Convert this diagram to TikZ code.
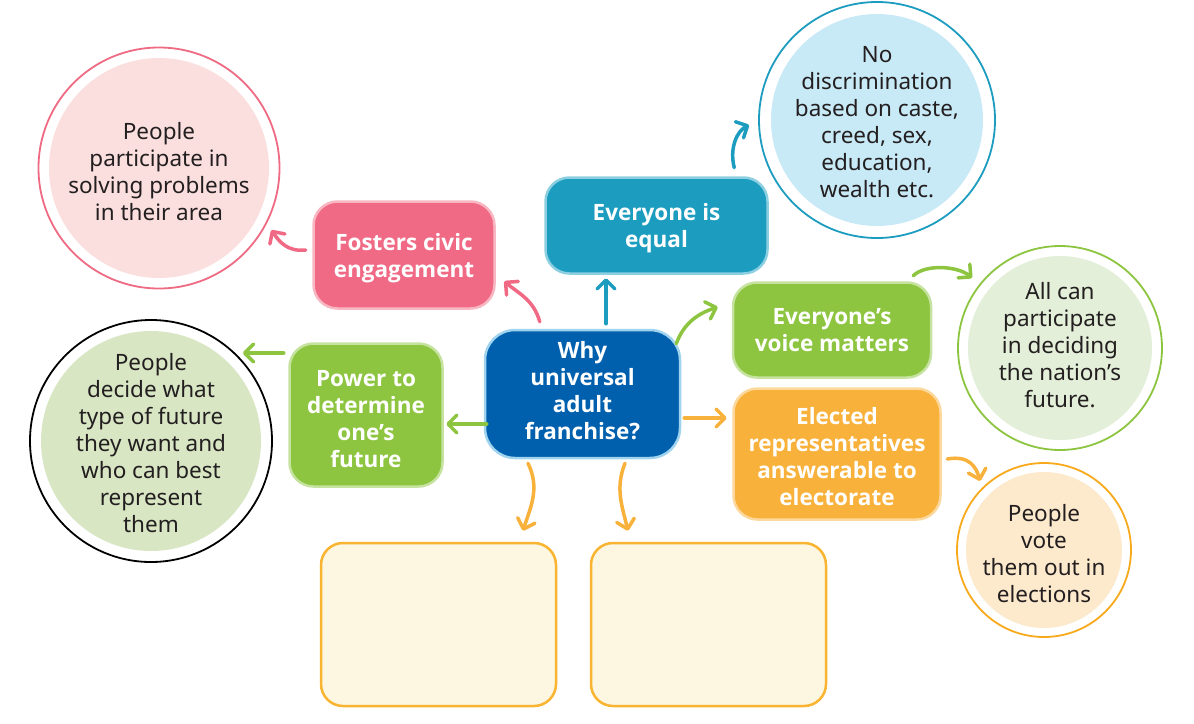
\documentclass[tikz,border=0pt]{standalone}
\usepackage{fontspec}
\setmainfont{Noto Sans}
\newfontfamily\headfont{Open Sans}
\usetikzlibrary{arrows.meta,calc}
\definecolor{ink}{HTML}{231F20}
\definecolor{whyfill}{HTML}{0060AE}
\definecolor{whyedge}{HTML}{9FD3EE}
\definecolor{teal}{HTML}{1C9CBF}
\definecolor{tealedge}{HTML}{8CCFE1}
\definecolor{pinkc}{HTML}{F06A85}
\definecolor{pinkedge}{HTML}{F8B7C3}
\definecolor{greenc}{HTML}{8DC540}
\definecolor{greenedge}{HTML}{C6E29F}
\definecolor{orangec}{HTML}{F8B13A}
\definecolor{orangeedge}{HTML}{FCD89C}
\definecolor{blankfill}{HTML}{FDF6E1}
\definecolor{blankedge}{HTML}{F9B531}
\definecolor{pinkring}{HTML}{EF6B83}
\definecolor{pinkdisc}{HTML}{FBDFDF}
\definecolor{bluedisc}{HTML}{C8E9F6}
\definecolor{greendisc}{HTML}{E3EFD8}
\definecolor{sagedisc}{HTML}{D8E6C4}
\definecolor{orangering}{HTML}{F8A91C}
\definecolor{orangedisc}{HTML}{FDE9CC}
\begin{document}
\begin{tikzpicture}[x=1pt,y=-1pt,
  box/.style={rectangle, rounded corners=24pt, line width=2.5pt, inner sep=0pt},
  head/.style={text=white, font=\headfont\bfseries\fontsize{22.5}{27}\selectfont, align=center, inner sep=0pt},
  blank/.style={rectangle, rounded corners=22pt, line width=2.5pt, draw=blankedge, fill=blankfill,
    minimum width=235pt, minimum height=163pt, inner sep=0pt},
  ring/.style={circle, line width=1.8pt, fill=white, inner sep=0pt},
  disc/.style={circle, inner sep=0pt},
  words/.style={text=ink, font=\fontsize{22.5}{27}\selectfont, align=center, inner sep=0pt},
  arr/.style={line width=3.5pt, line cap=round, -{Straight Barb[length=9pt,width=18pt,round]}}]
\useasboundingbox[fill=white] (0,0) rectangle (1194,723);

% circles
\node[ring, draw=pinkring, minimum size=241pt] (pinkR) at (159,168) {};
\node[disc, fill=pinkdisc, minimum size=220pt] (pinkD) at (159,168) {};
\node[words] (pinkT) at (159,172) {People\\participate in\\solving problems\\in their area};
\node[ring, draw=teal, minimum size=236pt] (blueR) at (877,120) {};
\node[disc, fill=bluedisc, minimum size=212pt] (blueD) at (877,120) {};
\node[words] (blueT) at (877,122) {No\\discrimination\\based on caste,\\creed, sex,\\education,\\wealth etc.};
\node[ring, draw=greenc, minimum size=204pt] (greenR) at (1060,348) {};
\node[disc, fill=greendisc, minimum size=184pt] (greenD) at (1060,348) {};
\node[words] (greenT) at (1060,345) {All can\\participate\\in deciding\\the nation’s\\future.};
\node[ring, draw=black, minimum size=242pt] (blackR) at (151,441) {};
\node[disc, fill=sagedisc, minimum size=220pt] (blackD) at (151,441) {};
\node[words] (blackT) at (151,443) {People\\decide what\\type of future\\they want and\\who can best\\represent\\them};
\node[ring, draw=orangering, minimum size=174pt] (orangeR) at (1044,550) {};
\node[disc, fill=orangedisc, minimum size=156pt] (orangeD) at (1044,550) {};
\node[words] (orangeT) at (1044,554) {People\\vote\\them out in\\elections};

% boxes
\node[box, fill=whyfill, draw=whyedge, rounded corners=30pt, minimum width=195pt, minimum height=128pt] (why) at (582.5,394) {};
\node[head] (whyT) at ($(why)+(0,-3)$) {Why\\universal\\adult\\franchise?};
\node[box, fill=teal, draw=tealedge, minimum width=222pt, minimum height=96pt] (equal) at (656.5,225.5) {};
\node[head] (equalT) at ($(equal)+(0,3)$) {Everyone is\\equal};
\node[box, fill=pinkc, draw=pinkedge, minimum width=181pt, minimum height=107pt] (civic) at (404,255) {};
\node[head] (civicT) at ($(civic)+(0,3)$) {Fosters civic\\engagement};
\node[box, fill=greenc, draw=greenedge, minimum width=153pt, minimum height=143pt] (power) at (366,415) {};
\node[head] (powerT) at ($(power)+(0,4)$) {Power to\\determine\\one’s\\future};
\node[box, fill=greenc, draw=greenedge, minimum width=198pt, minimum height=95pt] (voice) at (832,330) {};
\node[head] (voiceT) at (voice) {Everyone’s\\voice matters};
\node[box, fill=orangec, draw=orangeedge, minimum width=207pt, minimum height=131pt] (elected) at (837,454) {};
\node[head] (electedT) at ($(elected)+(0,3)$) {Elected\\representatives\\answerable to\\electorate};
\node[blank] (blankL) at (438.5,624.5) {};
\node[blank] (blankR) at (708.5,624.5) {};

% connectors
\draw[arr, pinkc] ($(why.north west)+(56,-7)$) .. controls +(-6,-22) and +(14,12) .. ($(civic.south east)+(8.5,-28.5)$);
\draw[arr, teal] ($(why.north)+(23.5,-5)$) -- ($(equal.south)+(-50.5,3.5)$);
\draw[arr, greenc] ($(why.north east)+(-5,15)$) .. controls +(8,-22) and +(-18,6) .. ($(voice.west)+(-14,-23)$);
\draw[arr, orangec] ($(why.east)+(3,24)$) -- ($(elected.west)+(-5.5,-36)$);
\draw[arr, greenc] ($(why.west)+(3,30)$) -- ($(power.east)+(2.5,9)$);
\draw[arr, greenc] ($(power.west)+(-4.5,-62)$) -- ($(blackR.east)+(-30,-88)$);
\draw[arr, pinkc] ($(civic.west)+(-6.5,-5)$) .. controls +(-18,2) and +(8,12) .. ($(pinkR.east)+(-9,62)$);
\draw[arr, teal] ($(equal.north east)+(-34.5,-8.5)$) .. controls +(-5,-20) and +(-12,6) .. ($(blueR.west)+(-9,5)$);
\draw[arr, greenc] ($(voice.north east)+(-19,-5.5)$) .. controls +(12,-12) and +(-14,-12) .. ($(greenR.west)+(15,-70)$);
\draw[arr, orangec] ($(elected.east)+(5.5,5)$) .. controls +(22,-4) and +(-4,-14) .. ($(orangeR.west)+(24,-69)$);
\draw[arr, orangec] ($(why.south)+(-54.5,4)$) .. controls +(12,25) and +(8,-25) .. ($(blankL.north)+(84.5,-11)$);
\draw[arr, orangec] ($(why.south)+(42.5,4)$) .. controls +(-10,25) and +(-6,-25) .. ($(blankR.north)+(-80.5,-11)$);
\end{tikzpicture}
\end{document}
